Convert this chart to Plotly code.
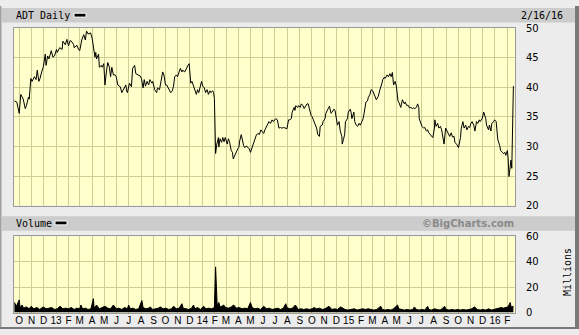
import pandas as pd
import plotly.graph_objects as go

W, H = 579, 335

price_dates = [
"2012-09-19","2012-09-25","2012-10-01","2012-10-05","2012-10-11","2012-10-16","2012-10-19","2012-10-24","2012-10-26","2012-10-30",
"2012-11-02","2012-11-08","2012-11-12","2012-11-15","2012-11-19","2012-11-22","2012-11-26","2012-11-30","2012-12-05","2012-12-07",
"2012-12-11","2012-12-14","2012-12-20","2012-12-24","2012-12-28","2013-01-02","2013-01-04","2013-01-10","2013-01-16","2013-01-18",
"2013-01-24","2013-01-28","2013-02-01","2013-02-05","2013-02-08","2013-02-14","2013-02-15","2013-02-22","2013-02-26","2013-03-01",
"2013-03-06","2013-03-11","2013-03-15","2013-03-18","2013-03-22","2013-03-28","2013-04-01","2013-04-05","2013-04-08","2013-04-10",
"2013-04-12","2013-04-17","2013-04-19","2013-04-24","2013-04-26","2013-04-30","2013-05-03","2013-05-07","2013-05-10","2013-05-14",
"2013-05-17","2013-05-20","2013-05-24","2013-05-28","2013-05-31","2013-06-04","2013-06-10","2013-06-14","2013-06-19","2013-06-24",
"2013-06-26","2013-06-28","2013-07-03","2013-07-08","2013-07-11","2013-07-16","2013-07-19","2013-07-25","2013-07-30",
"2013-08-02","2013-08-06","2013-08-09","2013-08-12","2013-08-16","2013-08-20","2013-08-23","2013-08-28","2013-08-30","2013-09-04",
"2013-09-09","2013-09-11","2013-09-16","2013-09-20","2013-09-24","2013-09-27","2013-10-01","2013-10-04","2013-10-08","2013-10-11",
"2013-10-14","2013-10-18","2013-10-21","2013-10-24","2013-10-28","2013-10-31","2013-11-04","2013-11-07","2013-11-11","2013-11-13",
"2013-11-18","2013-11-20","2013-11-22","2013-11-26","2013-11-29","2013-12-02","2013-12-03","2013-12-06","2013-12-10","2013-12-13",
"2013-12-17","2013-12-20","2013-12-23","2013-12-27","2013-12-30","2014-01-02","2014-01-06","2014-01-09","2014-01-13","2014-01-16",
"2014-01-20","2014-01-22","2014-01-27","2014-01-29","2014-01-31","2014-02-03","2014-02-06","2014-02-10","2014-02-11","2014-02-14",
"2014-02-18","2014-02-21","2014-02-24","2014-02-27","2014-03-04","2014-03-07","2014-03-10","2014-03-14","2014-03-17","2014-03-19",
"2014-03-24","2014-03-27","2014-03-31","2014-04-02","2014-04-04","2014-04-08","2014-04-11","2014-04-14","2014-04-17","2014-04-21",
"2014-04-24","2014-04-28","2014-05-01","2014-05-05","2014-05-07","2014-05-12","2014-05-14","2014-05-16","2014-05-21","2014-05-23",
"2014-05-27","2014-05-30","2014-06-03","2014-06-06","2014-06-10","2014-06-13",
"2014-06-16","2014-06-20","2014-06-24","2014-06-27","2014-07-03","2014-07-07","2014-07-11","2014-07-15","2014-07-18","2014-07-23",
"2014-07-28","2014-07-31","2014-08-04","2014-08-07","2014-08-11","2014-08-13","2014-08-18","2014-08-20","2014-08-22","2014-08-27",
"2014-08-29","2014-09-02","2014-09-05","2014-09-09","2014-09-12","2014-09-16","2014-09-19","2014-09-22","2014-09-26","2014-09-29",
"2014-10-02","2014-10-06","2014-10-09","2014-10-13","2014-10-16","2014-10-20","2014-10-22","2014-10-27","2014-10-29","2014-11-03",
"2014-11-05","2014-11-07","2014-11-11","2014-11-14","2014-11-18","2014-11-21","2014-11-25","2014-11-28","2014-12-01","2014-12-04",
"2014-12-08","2014-12-11","2014-12-15","2014-12-16","2014-12-19","2014-12-22","2014-12-24","2014-12-29","2014-12-31","2015-01-05",
"2015-01-07","2015-01-09","2015-01-14","2015-01-16","2015-01-20","2015-01-23","2015-01-27","2015-01-30","2015-02-03","2015-02-06",
"2015-02-09","2015-02-13","2015-02-17","2015-02-19","2015-02-23","2015-02-26","2015-03-02","2015-03-05","2015-03-09","2015-03-11",
"2015-03-16","2015-03-18","2015-03-20","2015-03-25","2015-03-27","2015-03-31","2015-04-02","2015-04-07","2015-04-10","2015-04-14",
"2015-04-17","2015-04-20",
"2015-04-23","2015-04-27","2015-04-30","2015-05-04","2015-05-06","2015-05-11","2015-05-13","2015-05-15","2015-05-20","2015-05-22",
"2015-05-26","2015-05-29","2015-06-02","2015-06-05","2015-06-09","2015-06-12","2015-06-15","2015-06-19","2015-06-22","2015-06-25",
"2015-06-26","2015-06-30","2015-07-03","2015-07-07","2015-07-10","2015-07-14","2015-07-17","2015-07-20","2015-07-24","2015-07-27",
"2015-07-30","2015-08-03","2015-08-04","2015-08-07","2015-08-11","2015-08-14","2015-08-18","2015-08-21","2015-08-24","2015-08-27",
"2015-08-31","2015-09-03","2015-09-08","2015-09-10","2015-09-14","2015-09-17","2015-09-21","2015-09-23","2015-09-28","2015-09-30",
"2015-10-02","2015-10-07","2015-10-09","2015-10-13","2015-10-16","2015-10-20","2015-10-23","2015-10-27","2015-10-30","2015-11-02",
"2015-11-05","2015-11-09","2015-11-12","2015-11-16","2015-11-19","2015-11-23","2015-11-25","2015-11-30","2015-12-02","2015-12-04",
"2015-12-09","2015-12-11","2015-12-16","2015-12-18","2015-12-22","2015-12-24","2015-12-29","2015-12-31","2016-01-04","2016-01-06",
"2016-01-08","2016-01-13","2016-01-15","2016-01-20","2016-01-22","2016-01-26","2016-01-28","2016-02-01","2016-02-03","2016-02-05",
"2016-02-08","2016-02-09","2016-02-10","2016-02-12","2016-02-16",
]
price_values = [
37.7,37.5,35.6,38.8,38.0,36.4,36.9,38.3,38.0,41.5,
41.0,41.8,41.3,42.9,41.0,41.5,42.6,43.4,45.6,43.7,
45.3,44.8,46.2,45.1,45.3,46.4,45.9,46.7,46.4,47.8,
47.2,48.1,47.0,47.9,47.8,47.2,46.7,47.1,46.4,46.2,
48.0,48.9,48.0,49.5,49.0,49.2,48.3,46.7,45.1,45.9,
44.8,45.6,43.4,43.7,43.4,44.0,40.4,42.9,44.2,43.4,
41.8,43.4,42.1,42.1,41.8,40.4,40.1,39.1,39.9,40.4,
39.4,39.1,40.7,40.1,43.2,43.7,42.3,42.1,41.9,
41.5,39.9,41.3,40.2,41.0,40.4,41.3,40.7,41.0,39.6,
39.1,39.9,39.6,41.0,42.6,42.1,40.4,40.4,39.9,39.6,
39.1,39.4,40.2,41.8,42.1,41.8,42.6,43.2,42.6,42.9,
42.6,42.9,43.4,43.7,44.0,41.3,40.7,41.0,40.2,39.9,
38.8,39.6,39.1,40.2,41.0,40.2,39.9,39.1,39.6,38.8,
39.4,39.1,39.4,39.1,38.1,28.8,30.4,31.5,29.9,31.3,
30.7,31.5,30.8,31.5,30.4,31.3,30.7,29.3,29.0,27.9,
28.7,29.3,29.7,29.8,30.9,32.0,30.9,30.1,29.8,30.1,
29.8,29.6,29.0,29.8,30.4,31.2,31.7,32.0,32.2,32.0,
32.8,32.5,32.2,32.8,33.4,33.6,
34.2,33.9,34.5,34.2,34.7,34.5,33.1,33.2,33.1,33.2,
33.1,33.0,34.5,34.5,34.7,35.8,36.6,36.1,36.9,36.6,
36.9,36.6,37.2,36.9,36.4,36.9,37.2,37.2,36.1,35.3,
35.0,34.2,33.6,33.1,32.0,31.7,33.4,33.6,34.2,34.7,
35.6,35.8,36.4,36.8,35.6,35.8,36.3,36.1,35.0,33.6,
34.2,32.6,31.7,30.4,31.2,32.0,34.2,34.7,35.8,36.3,
35.8,34.7,35.8,34.2,33.6,33.4,33.9,33.6,34.2,34.7,
35.8,37.5,37.7,38.3,38.8,39.6,39.4,38.8,38.3,37.9,
38.5,39.4,39.6,40.7,41.3,41.7,41.5,42.1,41.8,42.3,
41.8,42.5,
40.4,41.0,40.2,37.7,37.5,36.6,37.5,37.9,37.2,37.5,
36.9,37.0,36.5,36.6,36.4,36.5,36.4,36.6,37.2,36.6,
34.7,33.9,33.4,33.1,33.2,32.6,32.8,32.3,32.0,31.7,
31.5,33.1,34.5,33.4,33.9,33.1,33.4,32.8,31.5,30.4,
33.1,32.6,32.0,31.7,32.3,31.6,31.7,30.7,30.3,30.0,
29.8,31.5,33.1,34.2,33.1,33.6,32.8,33.4,33.2,33.9,
34.2,33.6,32.6,34.2,33.9,34.5,34.2,34.7,35.6,35.8,
34.7,33.6,32.8,33.6,32.6,33.9,34.2,34.5,34.2,32.0,
31.2,30.1,29.3,29.0,28.8,29.0,28.5,29.3,27.9,24.9,
27.4,27.1,27.7,26.3,40.2,
]

vol_dates = [
"2012-09-19","2012-09-24","2012-10-01","2012-10-03","2012-10-08","2012-10-12","2012-10-19","2012-10-26","2012-10-31","2012-11-06",
"2012-11-14","2012-11-21","2012-11-30","2012-12-07","2012-12-14","2012-12-21","2012-12-28","2013-01-04","2013-01-11","2013-01-18",
"2013-01-25","2013-02-01","2013-02-08","2013-02-15","2013-02-22","2013-03-01","2013-03-04","2013-03-08","2013-03-15","2013-03-22",
"2013-03-29","2013-04-04","2013-04-06","2013-04-12","2013-04-19","2013-04-26","2013-05-03","2013-05-10","2013-05-17","2013-05-24",
"2013-05-31","2013-06-07","2013-06-14","2013-06-21","2013-06-28","2013-07-01","2013-07-05","2013-07-12","2013-07-19","2013-07-26",
"2013-08-03","2013-08-06","2013-08-13","2013-08-20","2013-08-24","2013-08-30","2013-09-06","2013-09-13","2013-09-18","2013-09-25",
"2013-10-02","2013-10-09","2013-10-16","2013-10-21","2013-10-28","2013-11-04","2013-11-11","2013-11-14","2013-11-21","2013-11-28",
"2013-12-05","2013-12-10","2013-12-13","2013-12-20","2013-12-27","2014-01-04","2014-01-10","2014-01-17","2014-01-24","2014-01-31",
"2014-02-03","2014-02-05","2014-02-07","2014-02-11","2014-02-14","2014-02-19","2014-02-23","2014-02-28","2014-03-07","2014-03-14",
"2014-03-20","2014-03-27","2014-04-03","2014-04-10","2014-04-17","2014-04-24","2014-05-01","2014-05-05","2014-05-12","2014-05-19",
"2014-05-26","2014-06-03","2014-06-10","2014-06-17","2014-06-24","2014-07-01","2014-07-08","2014-07-15","2014-07-22","2014-07-28",
"2014-07-31","2014-08-07","2014-08-14","2014-08-21","2014-08-28","2014-09-04","2014-09-11","2014-09-18","2014-09-25","2014-10-02",
"2014-10-06","2014-10-13","2014-10-20","2014-10-27","2014-11-03","2014-11-13","2014-11-20","2014-11-27","2014-12-04","2014-12-12",
"2014-12-16","2014-12-23","2014-12-30","2015-01-08","2015-01-15","2015-01-22","2015-01-29","2015-02-05","2015-02-12","2015-02-19",
"2015-02-26","2015-03-05","2015-03-12","2015-03-22","2015-03-26","2015-04-02","2015-04-09","2015-04-16","2015-04-23","2015-05-03",
"2015-05-06","2015-05-13","2015-05-20","2015-05-27","2015-06-03","2015-06-10","2015-06-14","2015-06-19","2015-06-26","2015-07-03",
"2015-07-10","2015-07-17","2015-07-20","2015-07-27","2015-08-03","2015-08-10","2015-08-17","2015-08-24","2015-08-28","2015-09-02",
"2015-09-09","2015-09-16","2015-09-23","2015-09-30","2015-10-07","2015-10-14","2015-10-21","2015-10-28","2015-11-04","2015-11-11",
"2015-11-18","2015-11-25","2015-12-02","2015-12-09","2015-12-16","2015-12-23","2015-12-30","2016-01-07","2016-01-14","2016-01-17",
"2016-01-22","2016-01-28","2016-02-02","2016-02-05","2016-02-08","2016-02-10","2016-02-12","2016-02-16",
]
vol_values = [
8,5,10,4,6,3.5,4.5,3,5,3,
4,2.5,4.5,3,3.5,4,2.5,3,5,3,
3.5,3,4,2.5,3.5,3,6,3,3.5,2.5,
3,11,3.5,6,3,4,5,3.5,3,6,
3,3.5,2.5,4,3,6,3,3.5,2.5,3,
9.5,4,3,3.5,4.5,2.5,3,3.5,4.5,3,
3.5,2.5,3,5,3,3.5,7,3.5,3,2.5,
3.5,6,3,4,2.5,5,3,3.5,3,4,
36,12,5,8,4.5,5,6,4,3.5,4.5,
6,3.5,4,3,3.5,3,8,4,3,3.5,
2.5,5,3,3.5,2.5,3,3.5,2.5,3.5,7,
4,3,3.5,6,2.5,3,2.5,3,2.5,3,
4,3,3.5,2.5,3,5,2.5,3,2.5,4.5,
3.5,2.5,2,2.5,3,2,2.5,3,2.5,3,
2.5,2,2.5,5,2.5,2,2.5,2,3,6,
3,2.5,2,2.5,2,2.5,4.5,2.5,2,2.5,
2,5,2.5,2,3,2.5,2,3.5,5,2.5,
2,2.5,2,2.5,2,2.5,2,2.5,3,4.5,
2.5,2,2.5,2,3,2,2.5,3,3.5,4,
3.5,4,4.5,6,8,5,4.5,5,
]

month_ticks = pd.date_range("2012-10-01", "2016-02-01", freq="MS").strftime("%Y-%m-%d").tolist()
tick_labels = ["O","N","D","13","F","M","A","M","J","J","A","S",
               "O","N","D","14","F","M","A","M","J","J","A","S",
               "O","N","D","15","F","M","A","M","J","J","A","S",
               "O","N","D","16","F"]
price_ticks = [20, 25, 30, 35, 40, 45, 50]
vol_ticks = [0, 20, 40, 60]
x_range = ["2012-09-18", "2016-02-20"]

GRID = "#cfcf94"
BG = "#ffffcc"
FRAME = "#9a9a9a"

def px(v): return v / W
def py(v): return 1 - v / H

fig = go.Figure()
fig.add_trace(go.Scatter(x=price_dates, y=price_values, mode="lines",
                         line=dict(color="black", width=1), xaxis="x", yaxis="y",
                         hoverinfo="skip"))
fig.add_trace(go.Scatter(x=vol_dates, y=vol_values, mode="lines", fill="tozeroy",
                         fillcolor="black", line=dict(color="black", width=1),
                         xaxis="x2", yaxis="y2", hoverinfo="skip"))

tickfont = dict(family="DejaVu Sans", size=10, color="black")
common_x = dict(type="date", range=x_range, tickmode="array", tickvals=month_ticks,
                showgrid=True, gridcolor=GRID, gridwidth=1, showline=True, mirror=True,
                linecolor=FRAME, linewidth=1, zeroline=False, ticks="",
                domain=[px(14), px(515)])
fig.update_layout(
    width=W, height=H, margin=dict(l=0, r=0, t=0, b=0),
    paper_bgcolor="#ececec", plot_bgcolor=BG, showlegend=False,
    xaxis=dict(common_x, anchor="y", showticklabels=False),
    yaxis=dict(domain=[py(207), py(23)], range=[20, 50], tickvals=price_ticks,
               side="right", showgrid=True, gridcolor=GRID, showline=True, mirror=True,
               linecolor=FRAME, zeroline=False, ticks="", ticklabelstandoff=8,
               tickfont=tickfont, anchor="x"),
    xaxis2=dict(common_x, anchor="y2", ticktext=tick_labels, showticklabels=True,
                ticklabelstandoff=-2,
                tickfont=dict(family="Liberation Sans", size=10, color="black")),
    yaxis2=dict(domain=[py(318), py(239)], range=[0, 60], tickvals=vol_ticks,
                side="right", showgrid=True, gridcolor=GRID, showline=True, mirror=True,
                linecolor=FRAME, zeroline=False, ticks="", ticklabelstandoff=8,
                tickfont=tickfont, anchor="x2"),
)

shapes = [
    dict(type="rect", xref="paper", yref="paper", x0=px(2), x1=px(575), y0=py(17), y1=py(2),
         fillcolor="#cccccc", line=dict(width=0), layer="below"),
    dict(type="rect", xref="paper", yref="paper", x0=px(2), x1=px(575), y0=py(233), y1=py(218),
         fillcolor="#cccccc", line=dict(width=0), layer="below"),
    dict(type="rect", xref="paper", yref="paper", x0=px(74), x1=px(86), y0=py(11.5), y1=py(7.5),
         fillcolor="black", line=dict(color="white", width=1)),
    dict(type="rect", xref="paper", yref="paper", x0=px(55), x1=px(67), y0=py(227), y1=py(223),
         fillcolor="black", line=dict(color="white", width=1)),
    dict(type="line", xref="paper", yref="paper", x0=px(0.5), x1=px(0.5), y0=0, y1=1,
         line=dict(color="#a0a0a0", width=2)),
    dict(type="line", xref="paper", yref="paper", x0=px(577), x1=px(577), y0=0, y1=1,
         line=dict(color="#7a7a7a", width=4)),
    dict(type="line", xref="paper", yref="paper", x0=0, x1=1, y0=py(334), y1=py(334),
         line=dict(color="#7a7a7a", width=2)),
]
fig.update_layout(shapes=shapes)

mono = "DejaVu Sans Mono"
ann = [
    dict(text="ADT Daily", x=px(14), y=py(9.5), xanchor="left", yanchor="middle",
         font=dict(family=mono, size=10, color="black")),
    dict(text="2/16/16", x=px(565), y=py(9.5), xanchor="right", yanchor="middle",
         font=dict(family=mono, size=10, color="black")),
    dict(text="Volume", x=px(14), y=py(225.5), xanchor="left", yanchor="middle",
         font=dict(family=mono, size=10, color="black")),
    dict(text="<b>©BigCharts.com</b>", x=px(516), y=py(225.5), xanchor="right", yanchor="middle",
         font=dict(family="DejaVu Sans", size=10, color="#8a8a8a")),
    dict(text="Millions", x=px(567), y=py(276), xanchor="center", yanchor="middle",
         textangle=-90, font=dict(family=mono, size=10, color="black")),
]
for a in ann:
    a.update(xref="paper", yref="paper", showarrow=False)
fig.update_layout(annotations=ann)

fig.write_html("out.html")
